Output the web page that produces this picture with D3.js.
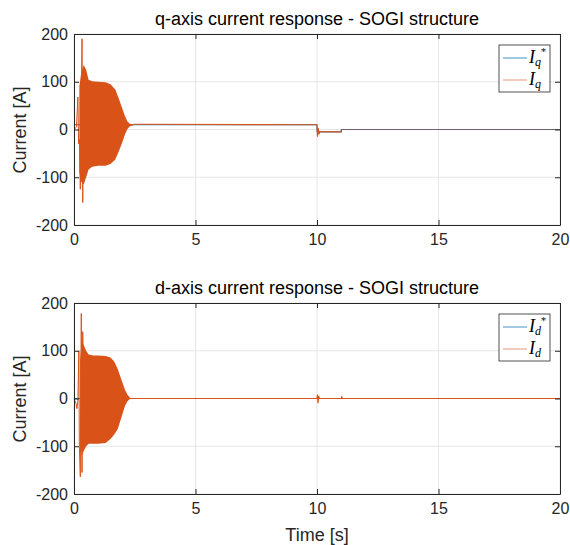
<!DOCTYPE html>
<head>
    <meta charset="utf-8">
    <style>
        body { margin: 0; background: #fff; }
        svg { font-family: "Liberation Sans", Arial, sans-serif; }
    </style>
</head>
<body>
    <script src="https://d3js.org/d3.v7.min.js"></script>
    <script>
        // values
        var xTicks = [0, 5, 10, 15, 20];
        var yTicks = [-200, -100, 0, 100, 200];

        // q-axis: reference and measured current
        var qRefT = [0, 10, 10, 11, 11, 20];
        var qRefV = [10, 10, -5, -5, 0, 0];
        var qSpikeT = [0, 0.1, 0.16, 0.19, 0.22, 0.26, 0.3, 0.33, 0.36, 0.4];
        var qSpikeV = [0, 5, 68, -30, -20, -125, 40, 190, -153, 60];
        var qEnvT  = [0.22, 0.3, 0.4, 0.5, 0.6, 0.75, 1.0, 1.3, 1.5, 1.7, 1.85, 2.0, 2.1, 2.2, 2.3, 2.45];
        var qEnvHi = [90, 120, 135, 125, 104, 101, 100, 99, 95, 84, 64, 42, 28, 17, 12, 11];
        var qEnvLo = [-90, -110, -115, -100, -84, -78, -76, -76, -72, -63, -45, -25, -10, 1, 7, 9];
        var qTailT = [2.45, 10, 10.02, 10.05, 10.08, 10.12, 10.2, 11, 11.01, 20];
        var qTailV = [11, 10, -15, 3, -10, -4, -5, -5, 0, 0];

        // d-axis: reference and measured current
        var dRefT = [0, 20];
        var dRefV = [0, 0];
        var dSpikeT = [0, 0.08, 0.12, 0.16, 0.2, 0.22, 0.26, 0.3, 0.33, 0.36, 0.38];
        var dSpikeV = [0, -10, -21, -5, 100, -100, -164, 178, -155, 140, 60];
        var dEnvT  = [0.25, 0.32, 0.4, 0.5, 0.6, 0.8, 1.0, 1.3, 1.5, 1.65, 1.8, 1.95, 2.1, 2.2, 2.3];
        var dEnvHi = [80, 120, 112, 100, 92, 90, 90, 89, 86, 78, 62, 40, 18, 8, 2];
        var dEnvLo = [-80, -120, -110, -100, -95, -95, -95, -93, -85, -76, -64, -40, -15, -6, -1];
        var dTailT = [2.3, 10, 10.02, 10.04, 10.07, 10.1, 11, 11.02, 11.05, 20];
        var dTailV = [0, 0, 8, -10, 5, 0, 0, 3, 0, 0];

        var blue = '#0072BD', orange = '#D95319', ink = '#262626';

        var svg = d3.select('body')
                    .append('svg')
                    .attr('width', 570)
                    .attr('height', 545);

        function pts(ts, vs) { return ts.map((t, i) => [t, vs[i]]); }

        function panel(top, title, sub, refT, refV, spT, spV, eT, eHi, eLo, tT, tV, xlabel) {
            var x = d3.scaleLinear().domain([0, 20]).range([74, 560]);
            var y = d3.scaleLinear().domain([-200, 200]).range([top + 191, top]);
            var g = svg.append('g');

            // grid
            g.selectAll('.gx').data(xTicks).enter().append('line')
             .attr('x1', d => x(d)).attr('x2', d => x(d))
             .attr('y1', top).attr('y2', top + 191)
             .attr('stroke', '#e6e6e6');
            g.selectAll('.gy').data(yTicks).enter().append('line')
             .attr('y1', d => y(d)).attr('y2', d => y(d))
             .attr('x1', 74).attr('x2', 560)
             .attr('stroke', '#e6e6e6');

            var line = d3.line().x(d => x(d[0])).y(d => y(d[1]));

            g.append('path').datum(pts(refT, refV))
             .attr('d', line).attr('fill', 'none')
             .attr('stroke', blue).attr('stroke-width', 1);

            var area = d3.area().x(d => x(d[0])).y0(d => y(d[2])).y1(d => y(d[1]));
            g.append('path').datum(eT.map((t, i) => [t, eHi[i], eLo[i]]))
             .attr('d', area).attr('fill', orange);

            g.append('path').datum(pts(spT, spV))
             .attr('d', line).attr('fill', 'none')
             .attr('stroke', orange).attr('stroke-width', 1);
            g.append('path').datum(pts(tT, tV))
             .attr('d', line).attr('fill', 'none')
             .attr('stroke', orange).attr('stroke-width', 1.2);

            // blue reference shows through after t = 11
            g.append('path').datum(pts(refT, refV).filter(d => d[0] >= 11))
             .attr('d', line).attr('fill', 'none')
             .attr('stroke', blue).attr('stroke-width', 1).attr('opacity', 0.5);

            // axes (ticks inward, box on)
            var fmt = d => String(d);
            g.append('g').attr('transform', 'translate(0,' + (top + 191) + ')')
             .call(d3.axisBottom(x).tickValues(xTicks).tickFormat(fmt)
                     .tickSizeInner(-5).tickSizeOuter(0).tickPadding(9));
            g.append('g').attr('transform', 'translate(74,0)')
             .call(d3.axisLeft(y).tickValues(yTicks).tickFormat(fmt)
                     .tickSizeInner(-5).tickSizeOuter(0).tickPadding(6));
            g.append('g').attr('transform', 'translate(0,' + top + ')')
             .call(d3.axisTop(x).tickValues(xTicks).tickSizeInner(-5).tickSizeOuter(0).tickFormat(''));
            g.append('g').attr('transform', 'translate(560,0)')
             .call(d3.axisRight(y).tickValues(yTicks).tickSizeInner(-5).tickSizeOuter(0).tickFormat(''));
            g.selectAll('.domain, .tick line').attr('stroke', ink);
            g.selectAll('.tick text').style('font-size', '16px')
             .style('font-family', '"Liberation Sans", Arial, sans-serif').attr('fill', ink);

            g.append('text').attr('x', 317).attr('y', top - 9)
             .attr('text-anchor', 'middle').attr('fill', '#000')
             .style('font-size', '18px').text(title);

            g.append('text')
             .attr('transform', 'translate(26,' + (top + 96) + ') rotate(-90)')
             .attr('text-anchor', 'middle').attr('fill', ink)
             .style('font-size', '18px').text('Current [A]');

            if (xlabel) {
                g.append('text').attr('x', 317).attr('y', top + 238)
                 .attr('text-anchor', 'middle').attr('fill', ink)
                 .style('font-size', '18px').text(xlabel);
            }

            // legend
            var lg = g.append('g').attr('transform', 'translate(499,' + (top + 11) + ')');
            lg.append('rect').attr('width', 51).attr('height', 47)
              .attr('fill', '#fff').attr('stroke', ink).attr('stroke-width', 0.8);
            [[blue, true, 13], [orange, false, 35]].forEach(function (it) {
                lg.append('line').attr('x1', 4).attr('x2', 28)
                  .attr('y1', it[2]).attr('y2', it[2])
                  .attr('stroke', it[0]).attr('opacity', it[1] ? 0.75 : 0.6);
                var t = lg.append('text').attr('x', 30).attr('y', it[2] + 5)
                          .attr('fill', '#000')
                          .style('font-family', '"Liberation Serif", serif')
                          .style('font-style', 'italic').style('font-size', '18px');
                t.append('tspan').text('I');
                t.append('tspan').attr('dy', 3).style('font-size', '12px').text(sub);
                if (it[1]) {
                    t.append('tspan').attr('dx', 0).attr('dy', -11)
                     .style('font-family', '"DejaVu Serif", serif')
                     .style('font-style', 'normal').style('font-size', '10px').text('*');
                }
            });
        }

        panel(34, 'q-axis current response - SOGI structure', 'q',
              qRefT, qRefV, qSpikeT, qSpikeV, qEnvT, qEnvHi, qEnvLo, qTailT, qTailV, null);
        panel(303, 'd-axis current response - SOGI structure', 'd',
              dRefT, dRefV, dSpikeT, dSpikeV, dEnvT, dEnvHi, dEnvLo, dTailT, dTailV, 'Time [s]');
    </script>
</body>
